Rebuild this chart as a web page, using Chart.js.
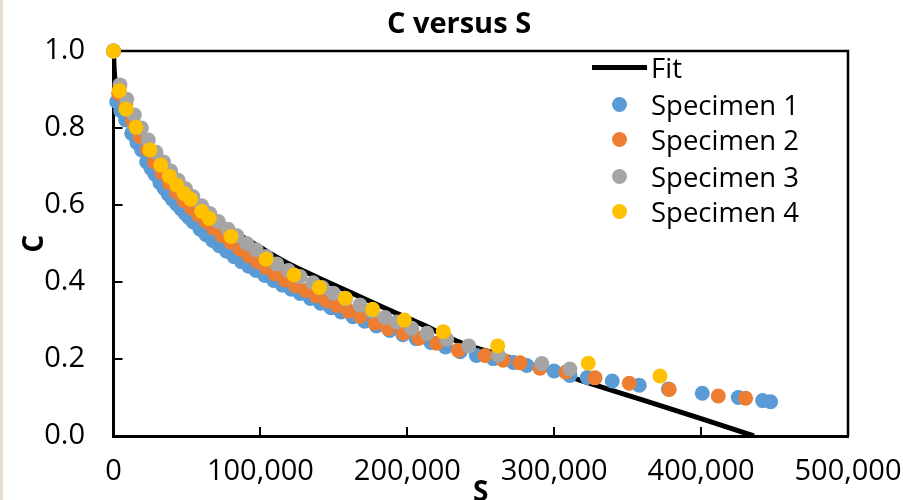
<!DOCTYPE html>
<html>
<head>
<meta charset="utf-8">
<script src="https://cdn.jsdelivr.net/npm/chart.js@4.4.1/dist/chart.umd.min.js"></script>
<style>
  html, body { margin: 0; padding: 0; background: #fff; }
  #wrap { position: relative; width: 903px; height: 500px; overflow: hidden; }
  #borde { position: absolute; left: 0; top: 0; width: 3px; height: 500px; background: #e6dfd2; }
  .leg { position: absolute; left: 588px; height: 36px; display: flex; align-items: center;
         font: 27.5px "Open Sans", sans-serif; color: #000; white-space: nowrap; }
  .mk { position: relative; width: 63px; height: 36px; }
  .mk .ln { position: absolute; left: 4px; top: 15.5px; width: 55px; height: 5px; background: #000; }
  .mk .dot { position: absolute; left: 23.5px; top: 10.5px; width: 15px; height: 15px; border-radius: 50%; }
</style>
</head>
<body>
<div id="wrap">
  <canvas id="grafico" width="903" height="500"></canvas>
  <div id="borde"></div>
  <div id="leyenda"></div>
</div>
<script>
// valores (S, C)
const fitS = [0, 500, 1500, 4000, 8000, 16000, 25000, 35000, 45000, 55000, 65000, 77000, 87000, 100000,
  120000, 140000, 160000, 185000, 210000, 238000, 265000, 290000, 320000, 360000, 400000, 436000];
const fitC = [1.0, 0.95, 0.915, 0.875, 0.835, 0.775, 0.725, 0.68, 0.64, 0.607, 0.577, 0.546, 0.52, 0.49,
  0.446, 0.41, 0.375, 0.332, 0.29, 0.24, 0.209, 0.179, 0.142, 0.094, 0.045, 0.0];

const s1S = [0, 2200, 5000, 8300, 12400, 16000, 19200, 22600, 25500, 28200, 31600, 34500, 37300, 40000, 43000,
  46000, 48700, 51500, 54300, 58900, 63000, 67500, 72000, 77000, 82000, 87000, 92000, 97000, 103000, 109000,
  115000, 121000, 127000, 134000, 141000, 148000, 155000, 163000, 171000, 179000, 188000, 197000, 206000,
  216000, 226000, 236000, 247000, 258500, 272200, 281300, 299900, 310700, 322500, 339500, 357900, 377700,
  400800, 425300, 441900, 447300];
const s1C = [1.0, 0.868, 0.845, 0.821, 0.786, 0.762, 0.743, 0.712, 0.695, 0.68, 0.658, 0.643, 0.628, 0.615, 0.602,
  0.59, 0.578, 0.567, 0.556, 0.537, 0.523, 0.508, 0.494, 0.48, 0.466, 0.453, 0.441, 0.43, 0.417, 0.404,
  0.392, 0.381, 0.37, 0.357, 0.345, 0.333, 0.322, 0.31, 0.298, 0.286, 0.274, 0.263, 0.253,
  0.243, 0.231, 0.219, 0.209, 0.201, 0.191, 0.183, 0.169, 0.157, 0.152, 0.143, 0.132, 0.122,
  0.111, 0.1, 0.092, 0.089];

const s2S = [0, 3500, 8300, 13000, 18000, 23000, 28000, 33000, 38000, 43000, 48000, 53000, 58000, 63000, 68000,
  74000, 80000, 86000, 92000, 98000, 104000, 110000, 117000, 124000, 131000, 138000, 145000, 152000, 160000,
  168000, 178000, 187000, 197300, 208000, 220000, 234700, 252900, 265300, 276700, 290300, 308000, 327800,
  351100, 378300, 411700, 430300];
const s2C = [1.0, 0.89, 0.862, 0.818, 0.778, 0.744, 0.712, 0.683, 0.657, 0.633, 0.611, 0.592, 0.574, 0.557, 0.54,
  0.52, 0.503, 0.486, 0.468, 0.453, 0.437, 0.421, 0.405, 0.39, 0.378, 0.364, 0.352, 0.339, 0.325,
  0.311, 0.293, 0.279, 0.267, 0.254, 0.241, 0.223, 0.209, 0.197, 0.19, 0.176, 0.166, 0.151,
  0.137, 0.121, 0.104, 0.098];

const s3S = [0, 4400, 9000, 14200, 19000, 23700, 29000, 34000, 39000, 44000, 49000, 54000, 60000, 65500, 71300,
  78000, 84000, 90700, 97000, 104000, 111100, 119000, 127000, 135800, 142000, 149600, 158000, 167800, 176000,
  184800, 192800, 203000, 213400, 226800, 241800, 262000, 291500, 310700];
const s3C = [1.0, 0.912, 0.875, 0.834, 0.8, 0.769, 0.737, 0.712, 0.688, 0.664, 0.642, 0.622, 0.598, 0.578, 0.557,
  0.537, 0.52, 0.5, 0.484, 0.466, 0.447, 0.43, 0.414, 0.398, 0.386, 0.371, 0.356, 0.34, 0.325,
  0.308, 0.296, 0.28, 0.267, 0.251, 0.234, 0.21, 0.188, 0.174];

const s4S = [0, 3950, 8500, 15300, 24800, 32100, 38000, 43000, 48000, 52500, 60000, 65200, 80000, 103800, 122900,
  140100, 157800, 176400, 198000, 224500, 261500, 323200, 372000];
const s4C = [1.0, 0.897, 0.849, 0.802, 0.743, 0.704, 0.675, 0.652, 0.63, 0.615, 0.583, 0.565, 0.518, 0.459, 0.418,
  0.386, 0.358, 0.329, 0.301, 0.271, 0.234, 0.189, 0.156];

const xTicks = [0, 100000, 200000, 300000, 400000, 500000];
const yTicks = [0, 0.2, 0.4, 0.6, 0.8, 1.0];

const nombres = ['Fit', 'Specimen 1', 'Specimen 2', 'Specimen 3', 'Specimen 4'];
const colores = ['#000000', '#5B9BD5', '#ED7D31', '#A5A5A5', '#FFC000'];

const fuente = '"Open Sans", sans-serif';

function puntos(xs, ys) {
    return xs.map((x, i) => ({x: x, y: ys[i]}));
}

function serie(i, xs, ys) {
    return {
        label: nombres[i],
        data: puntos(xs, ys),
        backgroundColor: colores[i],
        borderWidth: 0,
        pointRadius: 7.5,
        pointHoverRadius: 7.5,
        pointBorderWidth: 0,
        clip: false,
        order: 5 - i
    };
}

// marco superior y derecho del area de trazado
const marco = {
    id: 'marco',
    beforeDatasetsDraw(chart) {
        const ctx = chart.ctx;
        const a = chart.chartArea;
        ctx.save();
        ctx.strokeStyle = '#000';
        ctx.lineWidth = 2.5;
        ctx.beginPath();
        ctx.moveTo(a.left, a.top);
        ctx.lineTo(a.right, a.top);
        ctx.lineTo(a.right, a.bottom);
        ctx.stroke();
        ctx.restore();
    }
};

const ctx = document.getElementById('grafico').getContext('2d');
new Chart(ctx, {
    type: 'scatter',
    data: {
        datasets: [
            {
                label: nombres[0],
                data: puntos(fitS, fitC),
                showLine: true,
                borderColor: colores[0],
                borderWidth: 5,
                pointRadius: 0,
                pointHoverRadius: 0,
                cubicInterpolationMode: 'monotone',
                order: 5
            },
            serie(1, s1S, s1C),
            serie(2, s2S, s2C),
            serie(3, s3S, s3C),
            serie(4, s4S, s4C)
        ]
    },
    options: {
        responsive: false,
        animation: false,
        layout: { padding: { left: 15, right: 0, top: 0, bottom: 0 } },
        plugins: {
            legend: { display: false },
            tooltip: { enabled: false },
            title: {
                display: true,
                text: 'C versus S',
                color: '#000',
                font: { family: fuente, size: 29, weight: 'bold' },
                padding: { top: 7, bottom: 9.2 }
            }
        },
        scales: {
            x: {
                type: 'linear',
                min: 0,
                max: 500000,
                afterBuildTicks: s => { s.ticks = xTicks.map(v => ({value: v})); },
                afterFit: s => { s.height = 64; s.paddingLeft = 0; s.paddingRight = 0; },
                ticks: {
                    color: '#000',
                    font: { family: fuente, size: 29 },
                    padding: 27,
                    maxRotation: 0,
                    callback: v => v.toLocaleString('en-US')
                },
                grid: { drawOnChartArea: false, drawTicks: true, tickLength: -9, color: '#000', lineWidth: 2 },
                border: { display: true, color: '#000', width: 3 },
                title: {
                    display: true,
                    text: 'S',
                    color: '#000',
                    font: { family: fuente, size: 28, weight: 'bold' },
                    padding: { top: 0, bottom: -10 }
                }
            },
            y: {
                type: 'linear',
                min: 0,
                max: 1,
                afterBuildTicks: s => { s.ticks = yTicks.map(v => ({value: v})); },
                afterFit: s => { s.width = 98.5; s.paddingTop = 0; s.paddingBottom = 0; },
                ticks: {
                    color: '#000',
                    font: { family: fuente, size: 29 },
                    padding: 37.5,
                    callback: v => v.toFixed(1)
                },
                grid: { drawOnChartArea: false, drawTicks: true, tickLength: -9, color: '#000', lineWidth: 2 },
                border: { display: true, color: '#000', width: 3 },
                title: {
                    display: true,
                    text: 'C',
                    color: '#000',
                    font: { family: fuente, size: 28, weight: 'bold' },
                    padding: { top: 3, bottom: 0 }
                }
            },
            // eje vacio a la derecha para reservar el margen
            derecha: {
                type: 'linear',
                position: 'right',
                display: true,
                afterFit: s => { s.width = 55; s.paddingTop = 0; s.paddingBottom = 0; },
                ticks: { display: false },
                grid: { display: false },
                border: { display: false }
            }
        }
    },
    plugins: [marco]
});

// leyenda dentro del area de trazado
const leyenda = document.getElementById('leyenda');
const filasY = [67, 104, 139.5, 176, 211];
nombres.forEach((n, i) => {
    const fila = document.createElement('div');
    fila.className = 'leg';
    fila.style.top = (filasY[i] - 18) + 'px';
    const mk = document.createElement('div');
    mk.className = 'mk';
    const m = document.createElement('div');
    if (i === 0) {
        m.className = 'ln';
    } else {
        m.className = 'dot';
        m.style.background = colores[i];
    }
    mk.appendChild(m);
    const t = document.createElement('span');
    t.textContent = n;
    fila.appendChild(mk);
    fila.appendChild(t);
    leyenda.appendChild(fila);
});
</script>
</body>
</html>
